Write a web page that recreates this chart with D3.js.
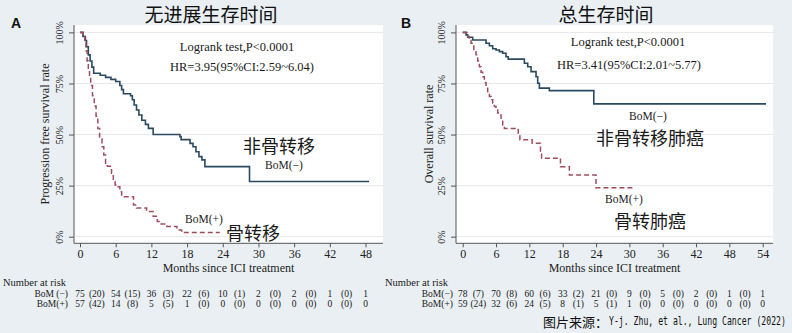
<!DOCTYPE html>
<html><head><meta charset="utf-8">
<script src="https://cdn.jsdelivr.net/npm/d3@7"></script>
<style>body{margin:0;background:#e9eff2}svg{display:block}</style>
</head><body>
<svg id="c" width="792" height="333"></svg>
<script>
// ---------- DATA ----------
const xTicksA = [0, 6, 12, 18, 24, 30, 36, 42, 48];
const xTicksB = [0, 6, 12, 18, 24, 30, 36, 42, 48, 54];
const yTicks = [0, 25, 50, 75, 100];
const yTickLabels = ["0%", "25%", "50%", "75%", "100%"];

// [month, survival %] step points (last point = end of follow-up)
const pfsNeg = [[0,100],[0.5,98],[0.9,96],[1.1,93],[1.4,89],[1.7,86],[2.0,83],[2.3,80],[3.4,79],[4.3,78],[5.2,77],[6.0,76],[6.7,74],[7.0,72],[7.3,70],[8.5,69],[8.8,67],[9.1,64.5],[9.5,62],[9.9,59.6],[10.4,57],[11.0,55],[11.5,53],[12.3,50],[16.8,49],[17.0,47.5],[18.5,45.7],[19.0,44],[19.5,41.6],[20.0,39.2],[20.5,37.6],[21.0,34.3],[28.5,27],[48.6,27]];
const pfsPos = [[0,100],[0.5,98],[0.8,95],[1.0,91],[1.2,86],[1.4,82],[1.6,78],[1.8,74],[2.1,69],[2.4,64],[2.7,59],[3.0,53],[3.3,48],[3.7,44],[4.0,40],[4.3,36],[4.6,34.5],[5.3,31],[5.6,27],[5.9,25.3],[6.4,24.5],[6.7,22],[7.0,19.6],[9.0,15.5],[9.5,14],[11.2,12.3],[12.3,10],[13.0,7.5],[13.3,6.2],[14.6,5],[16.3,3.3],[17.1,2],[23.5,2]];
const osNeg = [[0,100],[0.6,98.8],[0.9,97.6],[1.8,96.3],[4.2,94.7],[4.8,93.5],[5.4,92],[6.0,91.4],[6.6,90.6],[7.2,89.8],[7.8,88.1],[8.2,86.9],[11.1,84.9],[11.7,83.2],[12.3,80.8],[13.2,78.3],[13.5,75.1],[13.8,72.7],[15.6,71.5],[23.6,65],[54.6,65]];
const osPos = [[0,100],[0.9,98],[1.2,96],[1.5,94.7],[2.0,91],[2.4,89],[2.7,86],[3.0,83.2],[3.3,80.5],[3.6,78.3],[3.9,75.5],[4.2,73.4],[4.5,71],[4.8,68.6],[5.1,67],[5.4,65.3],[5.7,63.7],[6.0,62],[6.3,60.5],[6.6,59.6],[6.9,57],[7.2,54.7],[7.5,53],[10.0,49.8],[10.3,47.4],[12.5,45.7],[14.0,42],[14.2,38.4],[17.6,34.3],[19.2,30.2],[24.0,24],[31.0,24]];

// number at risk (at ticks) and censored (between ticks)
const riskANeg = [75, 54, 36, 22, 10, 2, 2, 1, 1];
const censANeg = [20, 15, 3, 6, 1, 0, 0, 0];
const riskAPos = [57, 14, 5, 1, 0, 0, 0, 0, 0];
const censAPos = [42, 8, 5, 0, 0, 0, 0, 0];
const riskBNeg = [78, 70, 60, 33, 21, 9, 5, 2, 1, 1];
const censBNeg = [7, 8, 6, 2, 0, 0, 0, 0, 0];
const riskBPos = [59, 32, 24, 8, 5, 1, 0, 0, 0, 0];
const censBPos = [24, 6, 5, 1, 1, 0, 0, 0, 0];

// ---------- DRAW ----------
const svg = d3.select("#c");
const SERIF = "'Liberation Serif','Times New Roman',serif";
const CJK = "'Noto Sans CJK SC','Noto Sans',sans-serif";
const NAVY = "#2a4a62", MAUVE = "#9e4d5d";

function panel(cfg) {
  const g = svg.append("g");
  const x = d3.scaleLinear().domain([0, cfg.xTicks[cfg.xTicks.length-1]]).range([cfg.x0, cfg.x1]);
  const y = d3.scaleLinear().domain([0, 100]).range([236.7, 32.4]);
  g.append("rect").attr("x", cfg.left).attr("y", 25).attr("width", cfg.right - cfg.left).attr("height", 243.3 - 25).attr("fill", "#fff");
  g.selectAll(".grid").data(yTicks).join("line")
    .attr("x1", cfg.left).attr("x2", cfg.right).attr("y1", d => y(d)).attr("y2", d => y(d))
    .attr("stroke", "#e8e8e8").attr("stroke-width", 1);
  const ya = g.append("g").attr("transform", `translate(${cfg.left},0)`)
    .call(d3.axisLeft(y).tickValues(yTicks).tickSize(5).tickPadding(3).tickFormat((d,i) => yTickLabels[i]));
  ya.select(".domain").attr("d", `M0,25V243.3`).attr("stroke", "#555");
  ya.selectAll(".tick line").attr("stroke", "#555");
  ya.selectAll(".tick text").attr("font-family", SERIF).attr("font-size", 10).attr("fill", "#222")
    .attr("text-anchor", "middle").attr("dy", 0).attr("x", 0)
    .attr("transform", "translate(-11,0) rotate(-90)");
  const xa = g.append("g").attr("transform", `translate(0,243.3)`)
    .call(d3.axisBottom(x).tickValues(cfg.xTicks).tickSize(4).tickPadding(2));
  xa.select(".domain").attr("d", `M${cfg.left},0H${cfg.right}`).attr("stroke", "#555");
  xa.selectAll(".tick line").attr("stroke", "#555");
  xa.selectAll(".tick text").attr("font-family", SERIF).attr("font-size", 12).attr("fill", "#222");
  g.append("text").attr("transform", `translate(${cfg.ytX},134) rotate(-90)`).attr("text-anchor", "middle")
    .attr("dominant-baseline", "central").attr("font-family", SERIF).attr("font-size", 12).attr("fill", "#222").text(cfg.yTitle);
  g.append("text").attr("x", (cfg.left + cfg.right) / 2).attr("y", 272).attr("text-anchor", "middle")
    .attr("font-family", SERIF).attr("font-size", 12).attr("fill", "#222").text("Months since ICI treatment");
  const line = d3.line().x(d => x(d[0])).y(d => y(d[1])).curve(d3.curveStepAfter);
  g.append("path").attr("d", line(cfg.neg)).attr("fill", "none").attr("stroke", NAVY).attr("stroke-width", 1.6);
  g.append("path").attr("d", line(cfg.pos)).attr("fill", "none").attr("stroke", MAUVE).attr("stroke-width", 1.5).attr("stroke-dasharray", "5,3");
  const ann = (tx, ty, s, fs, fam, anchor="middle") => g.append("text").attr("x", tx).attr("y", ty)
    .attr("text-anchor", anchor).attr("dominant-baseline", "central").attr("font-family", fam).attr("font-size", fs).attr("fill", "#1a1a1a").text(s);
  cfg.texts.forEach(t => ann(t[0], t[1], t[2], t[3], t[4]));
  const FS = 9.5, R1 = 294, R2 = 304;
  ann(cfg.nrX, 282, "Number at risk", 10.5, SERIF, "start");
  ann(cfg.lblX, R1, cfg.negLabel, FS, SERIF, "end");
  ann(cfg.lblX, R2, "BoM(+)", FS, SERIF, "end");
  const step = x(6) - x(0);
  const rows = [[cfg.rNeg, cfg.cNeg, R1], [cfg.rPos, cfg.cPos, R2]];
  rows.forEach(([r, c, yy]) => {
    g.selectAll(null).data(r).join("text").attr("x", (d,i) => x(cfg.xTicks[i])).attr("y", yy)
      .attr("text-anchor", "middle").attr("dominant-baseline", "central").attr("font-family", SERIF).attr("font-size", FS).attr("fill", "#1a1a1a").text(d => d);
    g.selectAll(null).data(c).join("text").attr("x", (d,i) => x(cfg.xTicks[i]) + step/2 - 1).attr("y", yy)
      .attr("text-anchor", "middle").attr("dominant-baseline", "central").attr("font-family", SERIF).attr("font-size", FS).attr("fill", "#1a1a1a").text(d => `(${d})`);
  });
  g.append("text").attr("x", cfg.letterX).attr("y", 23).attr("text-anchor", "middle").attr("dominant-baseline", "central")
    .attr("font-family", "'Liberation Sans',Arial,sans-serif").attr("font-weight", "bold").attr("font-size", 14).attr("fill", "#111").text(cfg.letter);
  g.append("text").attr("x", cfg.titleX).attr("y", 13).attr("text-anchor", "middle").attr("dominant-baseline", "central")
    .attr("font-family", CJK).attr("font-size", 19).attr("fill", "#111").text(cfg.title);
}

panel({
  xTicks: xTicksA, x0: 80, x1: 365.5, left: 74, right: 383, ytX: 45,
  yTitle: "Progression free survival rate", neg: pfsNeg, pos: pfsPos,
  texts: [[237, 46.5, "Logrank test,P<0.0001", 12.5, SERIF], [242, 67, "HR=3.95(95%CI:2.59~6.04)", 12.5, SERIF],
          [279, 145, "非骨转移", 18, CJK], [284, 164.5, "BoM(−)", 11.5, SERIF],
          [204, 219, "BoM(+)", 11.5, SERIF], [253, 232, "骨转移", 18, CJK]],
  nrX: 3, lblX: 68, negLabel: "BoM (−)",
  rNeg: riskANeg, cNeg: censANeg, rPos: riskAPos, cPos: censAPos,
  letter: "A", letterX: 16, title: "无进展生存时间", titleX: 211
});
panel({
  xTicks: xTicksB, x0: 462.7, x1: 762.7, left: 456, right: 773, ytX: 429,
  yTitle: "Overall survival rate", neg: osNeg, pos: osPos,
  texts: [[628, 42, "Logrank test,P<0.0001", 12.5, SERIF], [629, 65, "HR=3.41(95%CI:2.01~5.77)", 12.5, SERIF],
          [648, 116, "BoM(−)", 11.5, SERIF], [650, 136.5, "非骨转移肺癌", 18, CJK],
          [624, 198.5, "BoM(+)", 11.5, SERIF], [650, 219.5, "骨转肺癌", 18, CJK]],
  nrX: 385, lblX: 453, negLabel: "BoM(−)",
  rNeg: riskBNeg, cNeg: censBNeg, rPos: riskBPos, cPos: censBPos,
  letter: "B", letterX: 406, title: "总生存时间", titleX: 606
});

// footer source
svg.append("text").attr("x", 543).attr("y", 321).attr("dominant-baseline", "central")
  .attr("font-family", CJK).attr("font-size", 13).attr("fill", "#111").text("图片来源：");
svg.append("text").attr("transform", "translate(609,321) scale(0.71,1)").attr("dominant-baseline", "central")
  .attr("font-family", "'DejaVu Sans Mono',monospace").attr("font-size", 11.5).attr("fill", "#111")
  .text("Y-j. Zhu, et al., Lung Cancer (2022)");
</script>
</body></html>
